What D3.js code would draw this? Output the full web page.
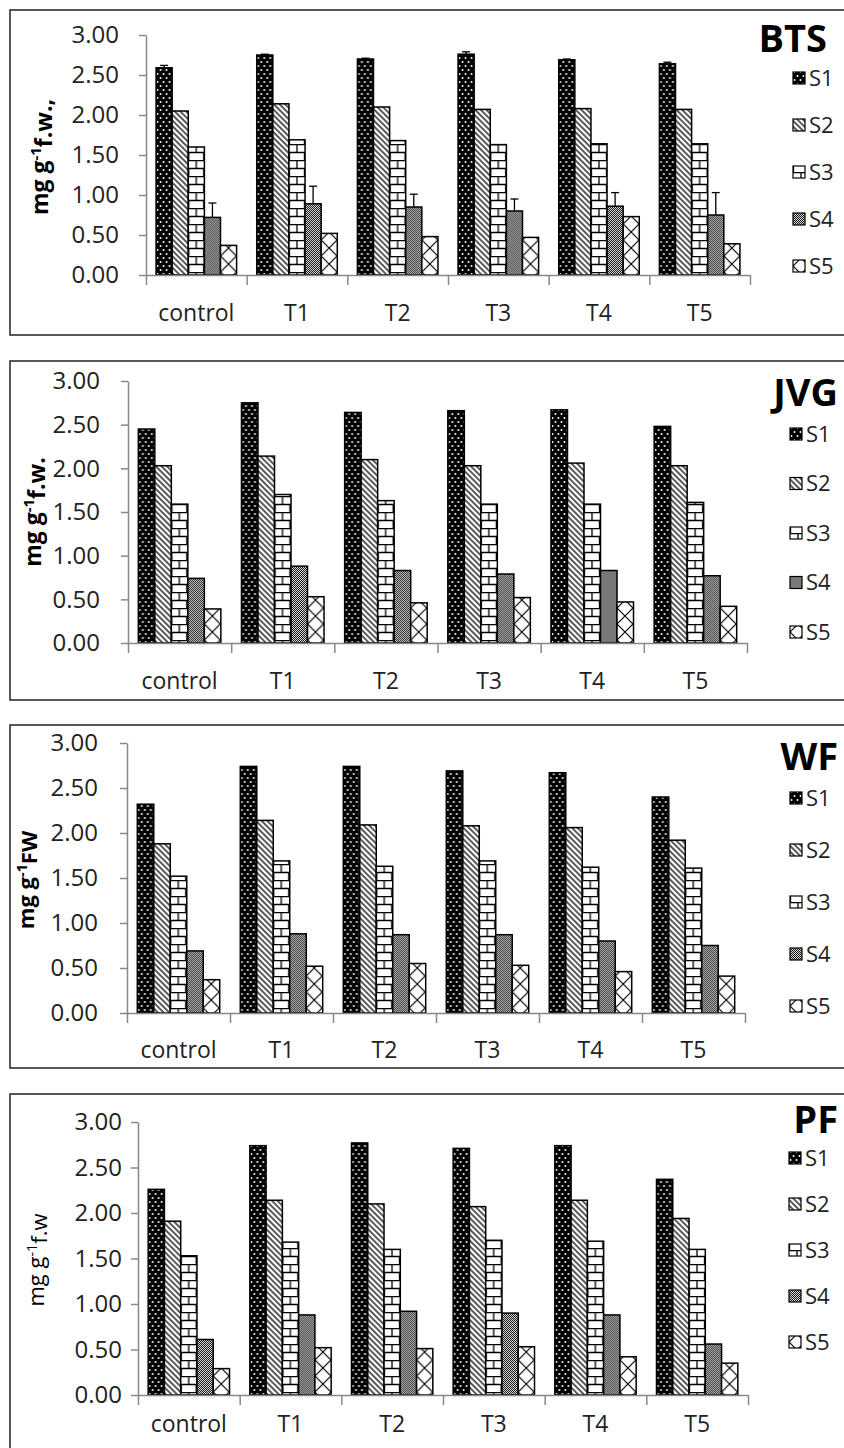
<!DOCTYPE html>
<html>
<head>
<meta charset="utf-8">
<script src="https://cdn.jsdelivr.net/npm/d3@7"></script>
<style>
  body { margin: 0; background: #fff; }
  text { font-family: "Open Sans", sans-serif; }
</style>
</head>
<body>
<div id="chart"></div>
<script>
const categories = ['control', 'T1', 'T2', 'T3', 'T4', 'T5'];
const series = ['S1', 'S2', 'S3', 'S4', 'S5'];
const yTicks = [0, 0.5, 1, 1.5, 2, 2.5, 3];

// one row per series (S1..S5), one column per category
const bts = [
  [2.59, 2.75, 2.70, 2.76, 2.69, 2.64],
  [2.05, 2.14, 2.10, 2.07, 2.08, 2.07],
  [1.60, 1.69, 1.68, 1.63, 1.64, 1.64],
  [0.72, 0.89, 0.85, 0.80, 0.86, 0.75],
  [0.37, 0.52, 0.48, 0.47, 0.73, 0.39]
];
const btsErr = [
  [0.03, 0.01, 0.01, 0.03, 0.01, 0.02],
  [0, 0, 0, 0, 0, 0],
  [0, 0, 0, 0, 0, 0],
  [0.18, 0.22, 0.16, 0.15, 0.17, 0.28],
  [0, 0, 0, 0, 0, 0]
];
const jvg = [
  [2.45, 2.75, 2.64, 2.66, 2.67, 2.48],
  [2.03, 2.14, 2.10, 2.03, 2.06, 2.03],
  [1.59, 1.70, 1.63, 1.59, 1.59, 1.61],
  [0.74, 0.88, 0.83, 0.79, 0.83, 0.77],
  [0.39, 0.53, 0.46, 0.52, 0.47, 0.42]
];
const wf = [
  [2.32, 2.74, 2.74, 2.69, 2.67, 2.40],
  [1.88, 2.14, 2.09, 2.08, 2.06, 1.92],
  [1.52, 1.69, 1.63, 1.69, 1.62, 1.61],
  [0.69, 0.88, 0.87, 0.87, 0.80, 0.75],
  [0.37, 0.52, 0.55, 0.53, 0.46, 0.41]
];
const pf = [
  [2.26, 2.74, 2.77, 2.71, 2.74, 2.37],
  [1.91, 2.14, 2.10, 2.07, 2.14, 1.94],
  [1.53, 1.68, 1.60, 1.70, 1.69, 1.60],
  [0.61, 0.88, 0.92, 0.90, 0.88, 0.56],
  [0.29, 0.52, 0.51, 0.53, 0.42, 0.35]
];

const panels = [
  { title: 'BTS', values: bts, errors: btsErr, unit: 'f.w.,', font: 'serif',
    frame: [10, 335], xr: [146, 750], yr: [275, 35], pad: 20, titleX: 827,
    titleY: 52, legY: 78, legStep: 47, legX: 793, catY: 321, lab: [40, 157] },
  { title: 'JVG', values: jvg, errors: null, unit: 'f.w.', font: 'serif',
    frame: [361, 700], xr: [128, 747], yr: [643, 381], pad: 21, titleX: 838,
    titleY: 406, legY: 434, legStep: 49.5, legX: 790, catY: 689, lab: [33, 512] },
  { title: 'WF', values: wf, errors: null, unit: 'FW', font: 'sansbold',
    frame: [725, 1068], xr: [127, 745], yr: [1013, 743], pad: 22, titleX: 838,
    titleY: 770, legY: 798, legStep: 52, legX: 790, catY: 1058, lab: [26, 880] },
  { title: 'PF', values: pf, errors: null, unit: 'f.w', font: 'sans',
    frame: [1094, 1460], xr: [138, 748], yr: [1395, 1122], pad: 9, titleX: 838,
    titleY: 1133, legY: 1158, legStep: 46, legX: 789, catY: 1432, lab: [36, 1260] }
];

const svg = d3.select('#chart').append('svg')
  .attr('width', 844)
  .attr('height', 1448);

const defs = svg.append('defs');

function pattern(id, w, h) {
  return defs.append('pattern')
    .attr('id', id)
    .attr('patternUnits', 'userSpaceOnUse')
    .attr('width', w)
    .attr('height', h);
}

// S1: black with white dots
let p = pattern('pS1', 6, 8);
p.append('rect').attr('width', 6).attr('height', 8).attr('fill', '#000');
p.append('circle').attr('cx', 1.5).attr('cy', 2).attr('r', 1).attr('fill', '#fff');
p.append('circle').attr('cx', 4.5).attr('cy', 6).attr('r', 1).attr('fill', '#fff');

// S2: wide downward diagonal
p = pattern('pS2', 4, 4).attr('patternTransform', 'rotate(45)');
p.append('rect').attr('width', 4).attr('height', 4).attr('fill', '#fff');
p.append('line').attr('x1', 0).attr('x2', 4).attr('y1', 1).attr('y2', 1)
  .attr('stroke', '#000').attr('stroke-width', 1.3);

// S3: horizontal brick
p = pattern('pS3', 16, 16);
p.append('rect').attr('width', 16).attr('height', 16).attr('fill', '#fff');
p.append('path')
  .attr('d', 'M0,0.5H16M0,8.5H16M8,0V8.5M0.5,8.5V16M15.5,8.5V16')
  .attr('stroke', '#000').attr('stroke-width', 1.3).attr('fill', 'none');

// S4: fine grey checker
p = pattern('pS4', 2, 2);
p.append('rect').attr('width', 2).attr('height', 2).attr('fill', '#e0e0e0');
p.append('rect').attr('width', 1).attr('height', 1).attr('fill', '#111');
p.append('rect').attr('x', 1).attr('y', 1).attr('width', 1).attr('height', 1).attr('fill', '#111');

// S5: large diamond cross
p = pattern('pS5', 16, 16);
p.append('rect').attr('width', 16).attr('height', 16).attr('fill', '#fff');
p.append('path')
  .attr('d', 'M0,0L16,16M16,0L0,16')
  .attr('stroke', '#000').attr('stroke-width', 1.2).attr('fill', 'none');

const fill = s => `url(#p${s})`;

panels.forEach(cfg => {
  const g = svg.append('g');

  // frame (right side runs off the page as in the source)
  g.append('rect')
    .attr('x', 10)
    .attr('y', cfg.frame[0])
    .attr('width', 850)
    .attr('height', cfg.frame[1] - cfg.frame[0])
    .attr('fill', 'none')
    .attr('stroke', '#222')
    .attr('stroke-width', 1.5);

  const x0 = d3.scaleBand()
    .domain(categories)
    .range(cfg.xr)
    .paddingInner(0.2)
    .paddingOuter(0.1);

  const x1 = d3.scaleBand()
    .domain(series)
    .range([0, x0.bandwidth()]);

  const y = d3.scaleLinear()
    .domain([0, 3])
    .range(cfg.yr);

  // y axis
  const ya = g.append('g')
    .attr('transform', `translate(${cfg.xr[0]},0)`)
    .call(d3.axisLeft(y).tickValues(yTicks).tickFormat(d3.format('.2f'))
      .tickSize(7).tickSizeOuter(0).tickPadding(cfg.pad));
  ya.selectAll('line, path').attr('stroke', '#888').attr('stroke-width', 1.5);
  ya.selectAll('text').attr('font-size', '24px').attr('fill', '#222')
    .attr('font-family', '"Open Sans", sans-serif');

  // bars
  const rows = [];
  cfg.values.forEach((vals, si) => {
    vals.forEach((v, ci) => {
      rows.push({ s: series[si], c: categories[ci], v: v,
        e: cfg.errors ? cfg.errors[si][ci] : 0 });
    });
  });

  g.append('g')
    .selectAll('rect')
    .data(rows)
    .join('rect')
      .attr('transform', d => `translate(${x0(d.c) + x1(d.s)},0)`)
      .attr('x', 0)
      .attr('y', d => y(d.v))
      .attr('width', x1.bandwidth())
      .attr('height', d => y(0) - y(d.v))
      .attr('fill', d => fill(d.s))
      .attr('stroke', '#000')
      .attr('stroke-width', 1.5);

  // error bars
  const eb = g.append('g')
    .selectAll('g')
    .data(rows.filter(d => d.e > 0))
    .join('g')
      .attr('stroke', '#000')
      .attr('stroke-width', 1.3);
  eb.append('line')
    .attr('x1', d => x0(d.c) + x1(d.s) + x1.bandwidth() / 2)
    .attr('x2', d => x0(d.c) + x1(d.s) + x1.bandwidth() / 2)
    .attr('y1', d => y(d.v))
    .attr('y2', d => y(d.v + d.e));
  eb.append('line')
    .attr('x1', d => x0(d.c) + x1(d.s) + x1.bandwidth() / 2 - 4)
    .attr('x2', d => x0(d.c) + x1(d.s) + x1.bandwidth() / 2 + 4)
    .attr('y1', d => y(d.v + d.e))
    .attr('y2', d => y(d.v + d.e));

  // x axis: ticks between categories
  const xb = d3.scaleLinear().domain([0, categories.length]).range(cfg.xr);
  const xa = g.append('g')
    .attr('transform', `translate(0,${cfg.yr[0]})`)
    .call(d3.axisBottom(xb).tickValues(d3.range(categories.length + 1))
      .tickFormat('').tickSize(10).tickSizeOuter(0));
  xa.selectAll('line, path').attr('stroke', '#888').attr('stroke-width', 1.5);

  g.append('g')
    .selectAll('text')
    .data(categories)
    .join('text')
      .attr('x', d => x0(d) + x0.bandwidth() / 2)
      .attr('y', cfg.catY)
      .attr('text-anchor', 'middle')
      .attr('font-size', '23px')
      .attr('fill', '#222')
      .text(d => d);

  // title
  g.append('text')
    .attr('x', cfg.titleX)
    .attr('y', cfg.titleY)
    .attr('text-anchor', 'end')
    .attr('font-size', '38px')
    .attr('font-weight', 'bold')
    .attr('fill', '#000')
    .text(cfg.title);

  // legend
  const leg = g.append('g')
    .selectAll('g')
    .data(series)
    .join('g')
      .attr('transform', (d, i) => `translate(${cfg.legX},${cfg.legY + i * cfg.legStep})`);
  leg.append('rect')
    .attr('x', 0)
    .attr('y', -6)
    .attr('width', 12)
    .attr('height', 12)
    .attr('fill', d => fill(d))
    .attr('stroke', '#000')
    .attr('stroke-width', 1.2);
  leg.append('text')
    .attr('x', 16)
    .attr('y', 0)
    .attr('dy', '0.36em')
    .attr('font-size', '22px')
    .attr('fill', '#222')
    .text(d => d);

  // y label
  const fam = cfg.font === 'serif' ? '"Liberation Serif", serif' : '"Open Sans", sans-serif';
  const lab = g.append('text')
    .attr('transform', `translate(${cfg.lab[0]},${cfg.lab[1]}) rotate(-90)`)
    .attr('text-anchor', 'middle')
    .attr('dy', '0.35em')
    .attr('font-family', fam)
    .attr('font-weight', cfg.font === 'sans' ? 'normal' : 'bold')
    .attr('font-size', cfg.font === 'serif' ? '23px' : '22px')
    .attr('fill', '#000');
  lab.append('tspan').text('mg g');
  lab.append('tspan').attr('dy', '-0.45em').attr('font-size', '65%').text('-1');
  lab.append('tspan').attr('dy', '0.45em').text(cfg.unit);
});
</script>
</body>
</html>
